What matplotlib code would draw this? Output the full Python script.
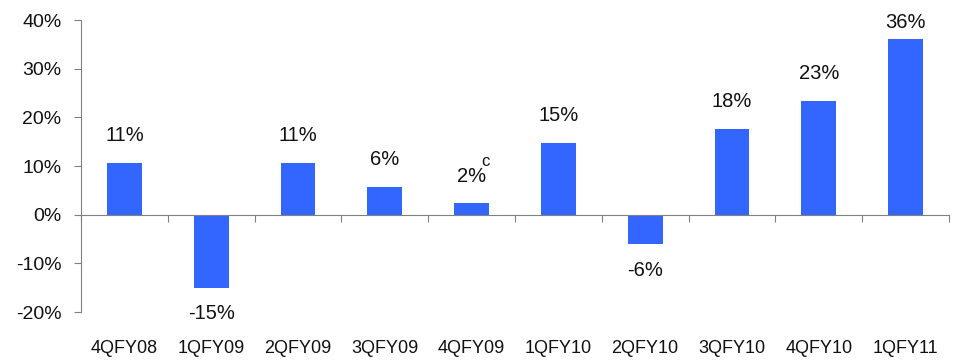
import matplotlib

matplotlib.use("Agg")

import matplotlib.pyplot as plt
import numpy as np
from matplotlib.ticker import FuncFormatter, FixedLocator
import matplotlib.transforms as mtransforms

quarters = ["4QFY08", "1QFY09", "2QFY09", "3QFY09", "4QFY09",
            "1QFY10", "2QFY10", "3QFY10", "4QFY10", "1QFY11"]
growth = [10.7, -15.1, 10.7, 5.8, 2.4, 14.8, -6.1, 17.7, 23.4, 36.1]
footnotes = {"4QFY09": "c"}

plt.rcParams["font.family"] = ["Liberation Sans", "DejaVu Sans"]

fig = plt.figure(figsize=(9.59, 3.6), dpi=100)
ax = fig.add_axes([0.0845, 0.133, 0.905, 0.811])

x = np.arange(len(quarters))
ax.bar(x, growth, width=0.4, color="#3366FF", zorder=2)

ymin, ymax = -20, 40
ax.set_xlim(-0.5, len(quarters) - 0.5)
ax.set_ylim(ymin, ymax)
ax.set_yticks(np.arange(ymin, ymax + 1, 10))
ax.yaxis.set_major_formatter(FuncFormatter(lambda v, _: f"{v:.0f}%"))
ax.tick_params(axis="y", length=5, color="#808080", labelsize=14, pad=9, labelcolor="#111111")

# zero line doubles as the category axis; ticks sit on the boundaries
for side in ("top", "right"):
    ax.spines[side].set_visible(False)
ax.spines["left"].set_color("#808080")
ax.spines["bottom"].set_position(("data", 0))
ax.spines["bottom"].set_color("#808080")
ax.xaxis.set_major_locator(FixedLocator(np.arange(-0.5, len(quarters), 1.0)))
ax.tick_params(axis="x", length=5, color="#808080", labelbottom=False)

trans = mtransforms.blended_transform_factory(ax.transData, ax.transAxes)
for xi, q in zip(x, quarters):
    ax.text(xi, -0.096, q, transform=trans, ha="center", va="top",
            fontsize=13, color="#111111")

# value labels: kept inside the plot area when the bar runs near the top
for xi, q, v in zip(x, quarters, growth):
    if v >= 0:
        ly = min(v + 3.6, ymax - 2.5)
        ax.text(xi, ly, f"{v:.0f}%", ha="center", va="bottom", fontsize=14.5, color="#111111")
    else:
        ly = v - 3.3
        ax.text(xi, ly, f"{v:.0f}%", ha="center", va="top", fontsize=14.5, color="#111111")
    if q in footnotes:
        ax.annotate(footnotes[q], (xi, ly), xytext=(7, 12), textcoords="offset points",
                    ha="left", va="bottom", fontsize=12, color="#111111")

fig.savefig("out.png", dpi=100)
